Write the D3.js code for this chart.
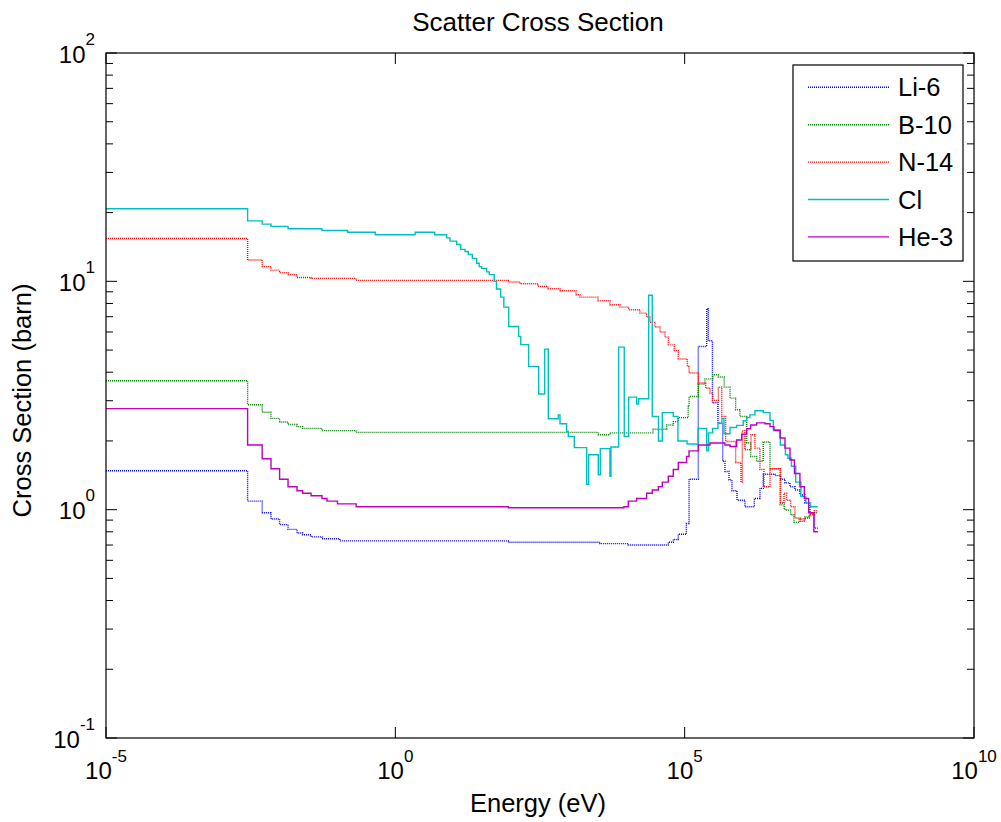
<!DOCTYPE html>
<html>
<head>
<meta charset="utf-8">
<script src="https://cdn.jsdelivr.net/npm/d3@7"></script>
<style>
  body { margin: 0; background: #fff; }
  svg text { font-family: "Liberation Sans", Arial, Helvetica, sans-serif; fill: #000; }
</style>
</head>
<body>
<div id="chart"></div>
<script>
// step edges (eV) and group cross sections (barn), one value per interval
const liE = [1e-5, 2.8e-3, 5.0e-3, 7.1e-3, 1.0e-2, 1.4e-2, 2.0e-2, 2.5e-2, 3.5e-2, 5.4e-2, 0.11, 89.5, 3436, 10600, 52100, 63530, 77500, 1.07e5, 1.19e5, 1.72e5, 2.40e5, 2.56e5, 3.02e5, 3.76e5, 4.54e5, 4.97e5, 5.83e5, 6.56e5, 8.02e5, 1.10e6, 1.60e6, 2.00e6, 2.28e6, 3.63e6, 4.56e6, 5.41e6, 6.61e6, 8.05e6, 9.82e6, 1.20e7, 1.46e7, 1.75e7, 2e7];
const liXS = [1.48, 1.09, 0.97, 0.91, 0.86, 0.82, 0.79, 0.776, 0.76, 0.746, 0.73, 0.72, 0.71, 0.70, 0.72, 0.74, 0.78, 0.87, 1.36, 5.18, 7.59, 5.49, 2.94, 2.39, 1.63, 1.47, 1.35, 1.21, 1.10, 1.03, 1.12, 1.24, 1.43, 1.41, 1.36, 1.31, 1.26, 1.22, 1.16, 1.07, 0.97, 0.83];

const bE = [1e-5, 2.8e-3, 5.0e-3, 7.1e-3, 1.0e-2, 1.4e-2, 2.0e-2, 2.5e-2, 5.4e-2, 0.21, 3214, 5117, 28300, 48900, 63530, 77500, 1.15e5, 1.19e5, 1.72e5, 2.24e5, 3.05e5, 3.81e5, 4.83e5, 6.07e5, 7.60e5, 9.02e5, 1.18e6, 1.38e6, 1.75e6, 2.28e6, 2.98e6, 4.44e6, 5.26e6, 5.79e6, 6.79e6, 7.74e6, 9.55e6, 1.20e7, 1.46e7, 2e7];
const bXS = [3.67, 2.88, 2.67, 2.51, 2.42, 2.36, 2.31, 2.27, 2.22, 2.18, 2.13, 2.17, 2.25, 2.35, 2.43, 2.53, 2.83, 3.13, 3.55, 3.74, 3.90, 3.81, 3.44, 3.08, 2.74, 2.56, 1.96, 1.71, 1.63, 1.98, 1.51, 1.05, 1.00, 0.995, 0.95, 0.88, 0.91, 0.93, 0.97];

const nE = [1e-5, 2.8e-3, 5.0e-3, 7.1e-3, 1.0e-2, 1.4e-2, 2.0e-2, 3.5e-2, 0.21, 89.5, 143, 292, 434, 700, 1324, 1552, 3177, 5117, 7621, 10770, 16900, 22030, 25120, 30690, 37420, 45700, 52100, 66100, 77500, 1.11e5, 1.19e5, 1.72e5, 2.31e5, 2.74e5, 3.05e5, 3.81e5, 4.36e5, 5.11e5, 7.60e5, 9.40e5, 9.89e5, 1.10e6, 1.40e6, 1.64e6, 2.00e6, 2.34e6, 2.98e6, 4.56e6, 5.20e6, 5.79e6, 6.79e6, 8.05e6, 1.01e7, 1.17e7, 1.42e7, 1.74e7, 2e7];
const nXS = [15.4, 12.4, 11.6, 11.2, 10.9, 10.7, 10.4, 10.3, 10.1, 9.93, 9.76, 9.50, 9.28, 9.10, 8.74, 8.53, 8.22, 7.90, 7.71, 7.51, 7.26, 6.98, 6.61, 6.31, 6.00, 5.70, 5.27, 4.97, 4.57, 4.24, 3.97, 3.59, 3.41, 3.24, 3.01, 3.44, 2.56, 1.99, 1.61, 1.32, 2.22, 1.83, 2.13, 1.86, 1.50, 1.26, 1.51, 1.07, 1.18, 1.10, 1.03, 0.92, 0.89, 0.92, 0.95, 0.99];

const clE = [1e-5, 2.8e-3, 5.0e-3, 7.1e-3, 1.4e-2, 5.4e-2, 0.15, 0.45, 2.2, 4.8, 7.7, 8.8, 11.5, 13.5, 16, 18.2, 21.4, 25.5, 28.2, 31, 37.8, 42, 51, 56, 66, 75, 91, 135, 147, 201, 300, 381, 440, 655, 700, 914, 975, 1236, 2028, 2193, 3214, 3483, 5117, 5321, 7228, 9036, 10770, 14820, 16030, 23880, 27540, 35250, 41020, 63530, 76560, 1.10e5, 1.70e5, 2.40e5, 2.58e5, 3.05e5, 3.76e5, 4.41e5, 4.78e5, 6.07e5, 7.91e5, 1.03e6, 1.18e6, 1.34e6, 1.64e6, 2.28e6, 2.98e6, 3.4e6, 4.5e6, 5.5e6, 6.1e6, 7.0e6, 8.3e6, 1.02e7, 1.24e7, 1.5e7, 2e7];
const clXS = [20.8, 18.4, 17.8, 17.4, 17.0, 16.7, 16.4, 16.0, 16.4, 16.0, 15.5, 15.0, 14.5, 13.8, 13.5, 13.1, 12.6, 12.0, 11.6, 11.4, 11.0, 10.7, 10.0, 9.25, 8.53, 7.71, 6.34, 5.74, 5.28, 4.24, 3.21, 5.05, 2.50, 2.60, 2.38, 2.20, 2.09, 1.87, 1.29, 1.74, 1.42, 1.85, 1.40, 1.88, 5.15, 2.09, 3.11, 2.90, 3.06, 8.69, 2.56, 2.00, 2.66, 2.56, 2.00, 1.94, 2.27, 1.81, 2.17, 2.27, 2.39, 2.51, 2.15, 2.29, 2.34, 2.45, 2.53, 2.60, 2.71, 2.66, 2.46, 2.24, 1.92, 1.74, 1.68, 1.55, 1.32, 1.14, 1.07, 1.03];

const heE = [1e-5, 2.8e-3, 5.0e-3, 7.1e-3, 1.0e-2, 1.4e-2, 2.0e-2, 2.5e-2, 3.5e-2, 5.4e-2, 6.6e-2, 0.1, 0.21, 89.5, 8930, 10600, 14820, 22030, 27540, 35000, 41020, 52100, 63530, 77500, 1.08e5, 1.19e5, 1.72e5, 2.74e5, 4.97e5, 6.07e5, 7.91e5, 9.66e5, 1.18e6, 1.38e6, 1.75e6, 2.44e6, 2.98e6, 3.49e6, 4.44e6, 5.41e6, 6.61e6, 7.89e6, 9.82e6, 1.17e7, 1.39e7, 1.71e7, 2e7];
const heXS = [2.77, 1.92, 1.67, 1.51, 1.36, 1.26, 1.21, 1.18, 1.15, 1.12, 1.09, 1.06, 1.03, 1.02, 1.03, 1.09, 1.12, 1.18, 1.22, 1.26, 1.32, 1.40, 1.50, 1.61, 1.71, 1.81, 1.92, 1.96, 1.92, 1.89, 2.02, 2.14, 2.26, 2.35, 2.40, 2.38, 2.31, 2.22, 2.06, 1.86, 1.65, 1.44, 1.26, 1.12, 0.97, 0.80];

const seriesNames = ['Li-6', 'B-10', 'N-14', 'Cl', 'He-3'];
const xTickVals = [1e-5, 1e0, 1e5, 1e10];
const xTickExps = ['-5', '0', '5', '10'];
const yTickVals = [1e-1, 1e0, 1e1, 1e2];
const yTickExps = ['-1', '0', '1', '2'];

const width = 1001, height = 822;
const mLeft = 106, mRight = 974, mTop = 53, mBottom = 738;

const series = [
  { name: seriesNames[0], e: liE, xs: liXS, color: '#0000ff', dash: '1,1' },
  { name: seriesNames[1], e: bE, xs: bXS, color: '#008000', dash: '1,1' },
  { name: seriesNames[2], e: nE, xs: nXS, color: '#ff0000', dash: '1,1' },
  { name: seriesNames[3], e: clE, xs: clXS, color: '#00bfbf', dash: null },
  { name: seriesNames[4], e: heE, xs: heXS, color: '#bf00bf', dash: null }
];

const svg = d3.select('#chart')
  .append('svg')
  .attr('width', width)
  .attr('height', height);

const x = d3.scaleLog().domain([1e-5, 1e10]).range([mLeft, mRight]);
const y = d3.scaleLog().domain([1e-1, 1e2]).range([mBottom, mTop]);

// lines (stairs)
const line = d3.line()
  .x(d => x(d[0]))
  .y(d => y(d[1]))
  .curve(d3.curveStepAfter);

series.forEach(s => {
  const pts = s.xs.map((v, i) => [s.e[i], v]);
  pts.push([s.e[s.e.length - 1], s.xs[s.xs.length - 1]]);
  svg.append('path')
    .datum(pts)
    .attr('d', line)
    .attr('fill', 'none')
    .attr('stroke', s.color)
    .attr('stroke-width', s.dash ? 1.4 : 1.4)
    .attr('stroke-dasharray', s.dash);
});

// box
svg.append('rect')
  .attr('x', mLeft).attr('y', mTop)
  .attr('width', mRight - mLeft).attr('height', mBottom - mTop)
  .attr('fill', 'none').attr('stroke', '#000').attr('stroke-width', 1.2);

// ticks, pointing inward on all four sides
const majorLen = 11, minorLen = 7;
const ticks = svg.append('g').attr('stroke', '#000').attr('stroke-width', 1);

xTickVals.forEach(v => {
  ticks.append('line').attr('x1', x(v)).attr('x2', x(v)).attr('y1', mBottom).attr('y2', mBottom - majorLen);
  ticks.append('line').attr('x1', x(v)).attr('x2', x(v)).attr('y1', mTop).attr('y2', mTop + majorLen);
});

const yMinor = y.ticks().filter(v => !yTickVals.some(t => Math.abs(t - v) / t < 1e-9));
yTickVals.forEach(v => {
  ticks.append('line').attr('x1', mLeft).attr('x2', mLeft + majorLen).attr('y1', y(v)).attr('y2', y(v));
  ticks.append('line').attr('x1', mRight).attr('x2', mRight - majorLen).attr('y1', y(v)).attr('y2', y(v));
});
yMinor.forEach(v => {
  ticks.append('line').attr('x1', mLeft).attr('x2', mLeft + minorLen).attr('y1', y(v)).attr('y2', y(v));
  ticks.append('line').attr('x1', mRight).attr('x2', mRight - minorLen).attr('y1', y(v)).attr('y2', y(v));
});

// tick labels as 10 with superscript exponent
xTickVals.forEach((v, i) => {
  const t = svg.append('text')
    .attr('x', x(v)).attr('y', 779)
    .attr('text-anchor', 'middle')
    .style('font-size', '24px');
  t.append('tspan').text('10');
  t.append('tspan').attr('dy', -17).style('font-size', '17px').text(xTickExps[i]);
});

yTickVals.forEach((v, i) => {
  const t = svg.append('text')
    .attr('x', 95).attr('y', y(v) + 9.5)
    .attr('text-anchor', 'end')
    .style('font-size', '24px');
  t.append('tspan').text('10');
  t.append('tspan').attr('dy', -18).style('font-size', '17px').text(yTickExps[i]);
});

// title and axis labels
svg.append('text')
  .attr('x', (mLeft + mRight) / 2 - 2).attr('y', 31)
  .attr('text-anchor', 'middle')
  .style('font-size', '26px')
  .text('Scatter Cross Section');

svg.append('text')
  .attr('x', (mLeft + mRight) / 2 - 2).attr('y', 812)
  .attr('text-anchor', 'middle')
  .style('font-size', '25.5px')
  .text('Energy (eV)');

svg.append('text')
  .attr('transform', `translate(31, ${(mTop + mBottom) / 2 + 5}) rotate(-90)`)
  .attr('text-anchor', 'middle')
  .style('font-size', '25.5px')
  .text('Cross Section (barn)');

// legend
const lg = svg.append('g');
lg.append('rect')
  .attr('x', 793).attr('y', 65)
  .attr('width', 170).attr('height', 196)
  .attr('fill', '#fff').attr('stroke', '#000').attr('stroke-width', 1.2);

series.forEach((s, i) => {
  const ly = 87.3 + i * 37.4;
  lg.append('line')
    .attr('x1', 808).attr('x2', 889)
    .attr('y1', ly).attr('y2', ly)
    .attr('stroke', s.color)
    .attr('stroke-width', 1.4)
    .attr('stroke-dasharray', s.dash);
  lg.append('text')
    .attr('x', 898).attr('y', ly)
    .attr('dy', '0.36em')
    .style('font-size', '25.5px')
    .text(s.name);
});
</script>
</body>
</html>
